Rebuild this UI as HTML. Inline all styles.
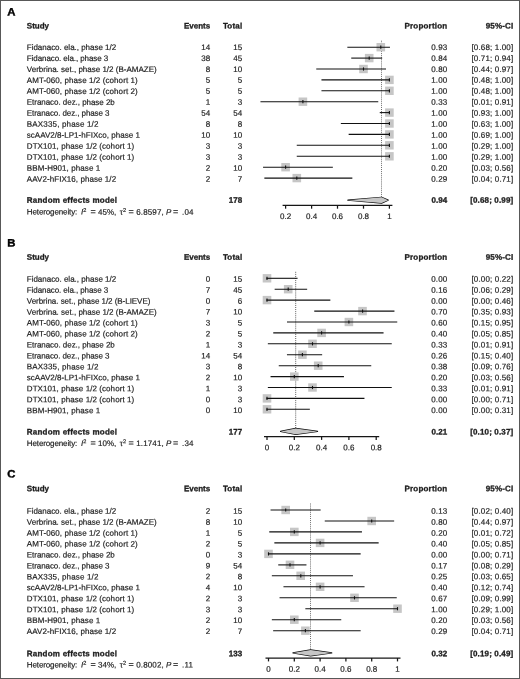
<!DOCTYPE html>
<html lang="en"><head><meta charset="utf-8"><title>Forest plots</title>
<style>
html,body{margin:0;padding:0;background:#fff;}
body{width:520px;height:679px;overflow:hidden;}
svg{display:block;text-rendering:geometricPrecision;font-family:"Liberation Sans",Arial,Helvetica,sans-serif;font-size:8px;fill:#1c1c1c;stroke:#1c1c1c;stroke-width:0.18px;paint-order:stroke;}
.b{font-weight:bold;stroke-width:0.3px;}
svg g{filter:blur(0.3px);}
.e{text-anchor:end;}
.m{text-anchor:middle;}
.L{font-size:10.8px;font-weight:bold;fill:#000;stroke:#000;stroke-width:0.4px;}
.i{font-style:italic;}
.ci{stroke:#111;stroke-width:1.1;fill:none;stroke-linecap:square;}
.sq{fill:#c6c6c6;stroke:none;}
.tk{stroke:#111;stroke-width:1.1;fill:none;}
.ref{stroke:#333;stroke-width:0.8;stroke-dasharray:1 1.07;fill:none;}
.dia{fill:#c6c6c6;stroke:#0c0c0c;stroke-width:1.3;stroke-linejoin:round;}
.w{letter-spacing:0.15px;}
.w2{letter-spacing:0.2px;}
.ax{stroke:#161616;stroke-width:1.25;fill:none;}
</style></head><body>
<svg width="520" height="679" viewBox="0 0 520 679">
<rect x="0" y="0" width="520" height="679" fill="#fff"/>

<g>
<text class="L" transform="translate(7.35 15.4) rotate(0.03) scale(1.05 1)" x="0" y="0">A</text>
<text transform="rotate(0.03 26.8 28.6)" class="b" x="26.8" y="28.6">Study</text>
<text transform="rotate(0.03 210.2 28.6)" class="b e" x="210.2" y="28.6">Events</text>
<text transform="rotate(0.03 242.4 28.6)" class="b e w2" x="242.4" y="28.6">Total</text>
<text transform="rotate(0.03 447.4 28.6)" class="b e w2" x="447.4" y="28.6">Proportion</text>
<text transform="rotate(0.03 513.35 28.6)" class="b e w" x="513.35" y="28.6">95%-CI</text>
<line class="ref" x1="381.6" y1="40.7" x2="381.6" y2="196.8"/>
<text transform="rotate(0.03 26.8 49.95)" x="26.8" y="49.95" letter-spacing="-0.021">Fidanaco. ela., phase 1/2</text>
<text transform="rotate(0.03 210.35 49.95)" class="e w" x="210.35" y="49.95">14</text>
<text transform="rotate(0.03 242.35 49.95)" class="e w" x="242.35" y="49.95">15</text>
<text transform="rotate(0.03 447.35 49.95)" class="e w" x="447.35" y="49.95">0.93</text>
<text transform="rotate(0.03 513.35 49.95)" class="e w" x="513.35" y="49.95">[0.68; 1.00]</text>
<rect class="sq" x="376.5" y="43.0" width="8.6" height="8.4"/>
<line class="ci" x1="347.9" y1="47.2" x2="389.4" y2="47.2"/>
<line class="tk" x1="380.8" y1="45.6" x2="380.8" y2="48.8"/>
<text transform="rotate(0.03 26.8 60.93)" x="26.8" y="60.93" letter-spacing="-0.082">Fidanaco. ela., phase 3</text>
<text transform="rotate(0.03 210.35 60.93)" class="e w" x="210.35" y="60.93">38</text>
<text transform="rotate(0.03 242.35 60.93)" class="e w" x="242.35" y="60.93">45</text>
<text transform="rotate(0.03 447.35 60.93)" class="e w" x="447.35" y="60.93">0.84</text>
<text transform="rotate(0.03 513.35 60.93)" class="e w" x="513.35" y="60.93">[0.71; 0.94]</text>
<rect class="sq" x="364.9" y="53.9" width="8.6" height="8.4"/>
<line class="ci" x1="351.8" y1="58.1" x2="381.6" y2="58.1"/>
<line class="tk" x1="369.2" y1="56.5" x2="369.2" y2="59.7"/>
<text transform="rotate(0.03 26.8 71.91)" x="26.8" y="71.91" letter-spacing="0.000">Verbrina. set., phase 1/2 (B-AMAZE)</text>
<text transform="rotate(0.03 210.35 71.91)" class="e w" x="210.35" y="71.91">8</text>
<text transform="rotate(0.03 242.35 71.91)" class="e w" x="242.35" y="71.91">10</text>
<text transform="rotate(0.03 447.35 71.91)" class="e w" x="447.35" y="71.91">0.80</text>
<text transform="rotate(0.03 513.35 71.91)" class="e w" x="513.35" y="71.91">[0.44; 0.97]</text>
<rect class="sq" x="359.2" y="64.8" width="8.6" height="8.4"/>
<line class="ci" x1="316.8" y1="69.0" x2="385.5" y2="69.0"/>
<line class="tk" x1="363.5" y1="67.4" x2="363.5" y2="70.6"/>
<text transform="rotate(0.03 26.8 82.89)" x="26.8" y="82.89" letter-spacing="0.086">AMT-060, phase 1/2 (cohort 1)</text>
<text transform="rotate(0.03 210.35 82.89)" class="e w" x="210.35" y="82.89">5</text>
<text transform="rotate(0.03 242.35 82.89)" class="e w" x="242.35" y="82.89">5</text>
<text transform="rotate(0.03 447.35 82.89)" class="e w" x="447.35" y="82.89">1.00</text>
<text transform="rotate(0.03 513.35 82.89)" class="e w" x="513.35" y="82.89">[0.48; 1.00]</text>
<rect class="sq" x="385.1" y="75.7" width="8.6" height="8.4"/>
<line class="ci" x1="322.0" y1="79.9" x2="389.4" y2="79.9"/>
<line class="tk" x1="389.4" y1="78.3" x2="389.4" y2="81.5"/>
<text transform="rotate(0.03 26.8 93.87)" x="26.8" y="93.87" letter-spacing="0.086">AMT-060, phase 1/2 (cohort 2)</text>
<text transform="rotate(0.03 210.35 93.87)" class="e w" x="210.35" y="93.87">5</text>
<text transform="rotate(0.03 242.35 93.87)" class="e w" x="242.35" y="93.87">5</text>
<text transform="rotate(0.03 447.35 93.87)" class="e w" x="447.35" y="93.87">1.00</text>
<text transform="rotate(0.03 513.35 93.87)" class="e w" x="513.35" y="93.87">[0.48; 1.00]</text>
<rect class="sq" x="385.1" y="86.6" width="8.6" height="8.4"/>
<line class="ci" x1="322.0" y1="90.8" x2="389.4" y2="90.8"/>
<line class="tk" x1="389.4" y1="89.2" x2="389.4" y2="92.4"/>
<text transform="rotate(0.03 26.8 104.85)" x="26.8" y="104.85" letter-spacing="-0.043">Etranaco. dez., phase 2b</text>
<text transform="rotate(0.03 210.35 104.85)" class="e w" x="210.35" y="104.85">1</text>
<text transform="rotate(0.03 242.35 104.85)" class="e w" x="242.35" y="104.85">3</text>
<text transform="rotate(0.03 447.35 104.85)" class="e w" x="447.35" y="104.85">0.33</text>
<text transform="rotate(0.03 513.35 104.85)" class="e w" x="513.35" y="104.85">[0.01; 0.91]</text>
<rect class="sq" x="298.6" y="97.5" width="8.6" height="8.4"/>
<line class="ci" x1="261.0" y1="101.7" x2="377.7" y2="101.7"/>
<line class="tk" x1="302.9" y1="100.1" x2="302.9" y2="103.3"/>
<text transform="rotate(0.03 26.8 115.83)" x="26.8" y="115.83" letter-spacing="-0.082">Etranaco. dez., phase 3</text>
<text transform="rotate(0.03 210.35 115.83)" class="e w" x="210.35" y="115.83">54</text>
<text transform="rotate(0.03 242.35 115.83)" class="e w" x="242.35" y="115.83">54</text>
<text transform="rotate(0.03 447.35 115.83)" class="e w" x="447.35" y="115.83">1.00</text>
<text transform="rotate(0.03 513.35 115.83)" class="e w" x="513.35" y="115.83">[0.93; 1.00]</text>
<rect class="sq" x="385.1" y="108.4" width="8.6" height="8.4"/>
<line class="ci" x1="380.3" y1="112.6" x2="389.4" y2="112.6"/>
<line class="tk" x1="389.4" y1="111.0" x2="389.4" y2="114.2"/>
<text transform="rotate(0.03 26.8 126.81)" x="26.8" y="126.81" letter-spacing="0.163">BAX335, phase 1/2</text>
<text transform="rotate(0.03 210.35 126.81)" class="e w" x="210.35" y="126.81">8</text>
<text transform="rotate(0.03 242.35 126.81)" class="e w" x="242.35" y="126.81">8</text>
<text transform="rotate(0.03 447.35 126.81)" class="e w" x="447.35" y="126.81">1.00</text>
<text transform="rotate(0.03 513.35 126.81)" class="e w" x="513.35" y="126.81">[0.63; 1.00]</text>
<rect class="sq" x="385.1" y="119.3" width="8.6" height="8.4"/>
<line class="ci" x1="341.4" y1="123.5" x2="389.4" y2="123.5"/>
<line class="tk" x1="389.4" y1="121.9" x2="389.4" y2="125.1"/>
<text transform="rotate(0.03 26.8 137.79)" x="26.8" y="137.79" letter-spacing="0.030">scAAV2/8-LP1-hFIXco, phase 1</text>
<text transform="rotate(0.03 210.35 137.79)" class="e w" x="210.35" y="137.79">10</text>
<text transform="rotate(0.03 242.35 137.79)" class="e w" x="242.35" y="137.79">10</text>
<text transform="rotate(0.03 447.35 137.79)" class="e w" x="447.35" y="137.79">1.00</text>
<text transform="rotate(0.03 513.35 137.79)" class="e w" x="513.35" y="137.79">[0.69; 1.00]</text>
<rect class="sq" x="385.1" y="130.2" width="8.6" height="8.4"/>
<line class="ci" x1="349.2" y1="134.4" x2="389.4" y2="134.4"/>
<line class="tk" x1="389.4" y1="132.8" x2="389.4" y2="136.0"/>
<text transform="rotate(0.03 26.8 148.77)" x="26.8" y="148.77" letter-spacing="0.074">DTX101, phase 1/2 (cohort 1)</text>
<text transform="rotate(0.03 210.35 148.77)" class="e w" x="210.35" y="148.77">3</text>
<text transform="rotate(0.03 242.35 148.77)" class="e w" x="242.35" y="148.77">3</text>
<text transform="rotate(0.03 447.35 148.77)" class="e w" x="447.35" y="148.77">1.00</text>
<text transform="rotate(0.03 513.35 148.77)" class="e w" x="513.35" y="148.77">[0.29; 1.00]</text>
<rect class="sq" x="385.1" y="141.1" width="8.6" height="8.4"/>
<line class="ci" x1="297.3" y1="145.3" x2="389.4" y2="145.3"/>
<line class="tk" x1="389.4" y1="143.7" x2="389.4" y2="146.9"/>
<text transform="rotate(0.03 26.8 159.75)" x="26.8" y="159.75" letter-spacing="0.074">DTX101, phase 1/2 (cohort 1)</text>
<text transform="rotate(0.03 210.35 159.75)" class="e w" x="210.35" y="159.75">3</text>
<text transform="rotate(0.03 242.35 159.75)" class="e w" x="242.35" y="159.75">3</text>
<text transform="rotate(0.03 447.35 159.75)" class="e w" x="447.35" y="159.75">1.00</text>
<text transform="rotate(0.03 513.35 159.75)" class="e w" x="513.35" y="159.75">[0.29; 1.00]</text>
<rect class="sq" x="385.1" y="152.1" width="8.6" height="8.4"/>
<line class="ci" x1="297.3" y1="156.2" x2="389.4" y2="156.2"/>
<line class="tk" x1="389.4" y1="154.7" x2="389.4" y2="157.8"/>
<text transform="rotate(0.03 26.8 170.73)" x="26.8" y="170.73" letter-spacing="0.087">BBM-H901, phase 1</text>
<text transform="rotate(0.03 210.35 170.73)" class="e w" x="210.35" y="170.73">2</text>
<text transform="rotate(0.03 242.35 170.73)" class="e w" x="242.35" y="170.73">10</text>
<text transform="rotate(0.03 447.35 170.73)" class="e w" x="447.35" y="170.73">0.20</text>
<text transform="rotate(0.03 513.35 170.73)" class="e w" x="513.35" y="170.73">[0.03; 0.56]</text>
<rect class="sq" x="281.3" y="163.0" width="8.6" height="8.4"/>
<line class="ci" x1="263.6" y1="167.2" x2="332.3" y2="167.2"/>
<line class="tk" x1="285.6" y1="165.6" x2="285.6" y2="168.8"/>
<text transform="rotate(0.03 26.8 181.71)" x="26.8" y="181.71" letter-spacing="0.067">AAV2-hFIX16, phase 1/2</text>
<text transform="rotate(0.03 210.35 181.71)" class="e w" x="210.35" y="181.71">2</text>
<text transform="rotate(0.03 242.35 181.71)" class="e w" x="242.35" y="181.71">7</text>
<text transform="rotate(0.03 447.35 181.71)" class="e w" x="447.35" y="181.71">0.29</text>
<text transform="rotate(0.03 513.35 181.71)" class="e w" x="513.35" y="181.71">[0.04; 0.71]</text>
<rect class="sq" x="292.5" y="173.9" width="8.6" height="8.4"/>
<line class="ci" x1="264.9" y1="178.1" x2="351.8" y2="178.1"/>
<line class="tk" x1="296.8" y1="176.5" x2="296.8" y2="179.7"/>
<text transform="rotate(0.03 26.8 202.8)" class="b" x="26.8" y="202.8" letter-spacing="0.23">Random effects model</text>
<text transform="rotate(0.03 242.2 202.8)" class="b e" x="242.2" y="202.8">178</text>
<text transform="rotate(0.03 447.2 202.8)" class="b e" x="447.2" y="202.8">0.94</text>
<text transform="rotate(0.03 513.35 202.8)" class="b e w" x="513.35" y="202.8">[0.68; 0.99]</text>
<polygon class="dia" points="347.9,200.2 381.6,197.3 388.1,200.2 381.6,203.1"/>
<text transform="rotate(0.03 26.8 214.6)" y="214.6"><tspan x="26.8" letter-spacing="-0.12">Heterogeneity:</tspan><tspan x="81" class="i">I</tspan><tspan dy="-2.7" font-size="5.6">2</tspan><tspan x="90.6" dy="2.7" font-size="9">=</tspan><tspan x="98" font-size="8">45%,</tspan><tspan x="119.8">τ</tspan><tspan dy="-2.7" font-size="5.6">2</tspan><tspan x="128.4" dy="2.7" font-size="9">=</tspan><tspan x="136.2" font-size="8" class="w">6.8597,</tspan><tspan x="166" class="i">P</tspan><tspan x="173" font-size="9">=</tspan><tspan x="182.1" font-size="8" class="w">.04</tspan></text>
<line class="ax" x1="282.6" y1="205.4" x2="392.4" y2="205.4"/>
<line class="ax" x1="285.6" y1="205.4" x2="285.6" y2="208.7"/>
<text transform="rotate(0.03 285.6 219.0)" class="m" x="285.6" y="219.0">0.2</text>
<line class="ax" x1="311.6" y1="205.4" x2="311.6" y2="208.7"/>
<text transform="rotate(0.03 311.6 219.0)" class="m" x="311.6" y="219.0">0.4</text>
<line class="ax" x1="337.5" y1="205.4" x2="337.5" y2="208.7"/>
<text transform="rotate(0.03 337.5 219.0)" class="m" x="337.5" y="219.0">0.6</text>
<line class="ax" x1="363.5" y1="205.4" x2="363.5" y2="208.7"/>
<text transform="rotate(0.03 363.5 219.0)" class="m" x="363.5" y="219.0">0.8</text>
<line class="ax" x1="389.4" y1="205.4" x2="389.4" y2="208.7"/>
<text transform="rotate(0.03 389.4 219.0)" class="m" x="389.4" y="219.0">1</text>
</g>
<g>
<text class="L" transform="translate(7.35 246.5) rotate(0.03) scale(1.05 1)" x="0" y="0">B</text>
<text transform="rotate(0.03 26.8 259.8)" class="b" x="26.8" y="259.8">Study</text>
<text transform="rotate(0.03 210.2 259.8)" class="b e" x="210.2" y="259.8">Events</text>
<text transform="rotate(0.03 242.4 259.8)" class="b e w2" x="242.4" y="259.8">Total</text>
<text transform="rotate(0.03 447.4 259.8)" class="b e w2" x="447.4" y="259.8">Proportion</text>
<text transform="rotate(0.03 513.35 259.8)" class="b e w" x="513.35" y="259.8">95%-CI</text>
<line class="ref" x1="295.7" y1="271.8" x2="295.7" y2="428.0"/>
<text transform="rotate(0.03 26.8 281.80)" x="26.8" y="281.80" letter-spacing="-0.021">Fidanaco. ela., phase 1/2</text>
<text transform="rotate(0.03 210.35 281.80)" class="e w" x="210.35" y="281.80">0</text>
<text transform="rotate(0.03 242.35 281.80)" class="e w" x="242.35" y="281.80">15</text>
<text transform="rotate(0.03 447.35 281.80)" class="e w" x="447.35" y="281.80">0.00</text>
<text transform="rotate(0.03 513.35 281.80)" class="e w" x="513.35" y="281.80">[0.00; 0.22]</text>
<rect class="sq" x="262.7" y="274.1" width="8.6" height="8.4"/>
<line class="ci" x1="267.0" y1="278.3" x2="297.0" y2="278.3"/>
<line class="tk" x1="267.0" y1="276.7" x2="267.0" y2="279.9"/>
<text transform="rotate(0.03 26.8 292.75)" x="26.8" y="292.75" letter-spacing="-0.082">Fidanaco. ela., phase 3</text>
<text transform="rotate(0.03 210.35 292.75)" class="e w" x="210.35" y="292.75">7</text>
<text transform="rotate(0.03 242.35 292.75)" class="e w" x="242.35" y="292.75">45</text>
<text transform="rotate(0.03 447.35 292.75)" class="e w" x="447.35" y="292.75">0.16</text>
<text transform="rotate(0.03 513.35 292.75)" class="e w" x="513.35" y="292.75">[0.06; 0.29]</text>
<rect class="sq" x="283.9" y="285.0" width="8.6" height="8.4"/>
<line class="ci" x1="275.2" y1="289.2" x2="306.6" y2="289.2"/>
<line class="tk" x1="288.2" y1="287.6" x2="288.2" y2="290.8"/>
<text transform="rotate(0.03 26.8 303.69)" x="26.8" y="303.69" letter-spacing="-0.041">Verbrina. set., phase 1/2 (B-LIEVE)</text>
<text transform="rotate(0.03 210.35 303.69)" class="e w" x="210.35" y="303.69">0</text>
<text transform="rotate(0.03 242.35 303.69)" class="e w" x="242.35" y="303.69">6</text>
<text transform="rotate(0.03 447.35 303.69)" class="e w" x="447.35" y="303.69">0.00</text>
<text transform="rotate(0.03 513.35 303.69)" class="e w" x="513.35" y="303.69">[0.00; 0.46]</text>
<rect class="sq" x="262.7" y="295.9" width="8.6" height="8.4"/>
<line class="ci" x1="267.0" y1="300.1" x2="329.8" y2="300.1"/>
<line class="tk" x1="267.0" y1="298.5" x2="267.0" y2="301.7"/>
<text transform="rotate(0.03 26.8 314.63)" x="26.8" y="314.63" letter-spacing="0.000">Verbrina. set., phase 1/2 (B-AMAZE)</text>
<text transform="rotate(0.03 210.35 314.63)" class="e w" x="210.35" y="314.63">7</text>
<text transform="rotate(0.03 242.35 314.63)" class="e w" x="242.35" y="314.63">10</text>
<text transform="rotate(0.03 447.35 314.63)" class="e w" x="447.35" y="314.63">0.70</text>
<text transform="rotate(0.03 513.35 314.63)" class="e w" x="513.35" y="314.63">[0.35; 0.93]</text>
<rect class="sq" x="358.2" y="306.9" width="8.6" height="8.4"/>
<line class="ci" x1="314.8" y1="311.1" x2="393.9" y2="311.1"/>
<line class="tk" x1="362.6" y1="309.5" x2="362.6" y2="312.7"/>
<text transform="rotate(0.03 26.8 325.58)" x="26.8" y="325.58" letter-spacing="0.086">AMT-060, phase 1/2 (cohort 1)</text>
<text transform="rotate(0.03 210.35 325.58)" class="e w" x="210.35" y="325.58">3</text>
<text transform="rotate(0.03 242.35 325.58)" class="e w" x="242.35" y="325.58">5</text>
<text transform="rotate(0.03 447.35 325.58)" class="e w" x="447.35" y="325.58">0.60</text>
<text transform="rotate(0.03 513.35 325.58)" class="e w" x="513.35" y="325.58">[0.15; 0.95]</text>
<rect class="sq" x="344.6" y="317.8" width="8.6" height="8.4"/>
<line class="ci" x1="287.5" y1="322.0" x2="396.7" y2="322.0"/>
<line class="tk" x1="348.9" y1="320.4" x2="348.9" y2="323.6"/>
<text transform="rotate(0.03 26.8 336.53)" x="26.8" y="336.53" letter-spacing="0.086">AMT-060, phase 1/2 (cohort 2)</text>
<text transform="rotate(0.03 210.35 336.53)" class="e w" x="210.35" y="336.53">2</text>
<text transform="rotate(0.03 242.35 336.53)" class="e w" x="242.35" y="336.53">5</text>
<text transform="rotate(0.03 447.35 336.53)" class="e w" x="447.35" y="336.53">0.40</text>
<text transform="rotate(0.03 513.35 336.53)" class="e w" x="513.35" y="336.53">[0.05; 0.85]</text>
<rect class="sq" x="317.3" y="328.7" width="8.6" height="8.4"/>
<line class="ci" x1="273.8" y1="332.9" x2="383.0" y2="332.9"/>
<line class="tk" x1="321.6" y1="331.3" x2="321.6" y2="334.5"/>
<text transform="rotate(0.03 26.8 347.47)" x="26.8" y="347.47" letter-spacing="-0.043">Etranaco. dez., phase 2b</text>
<text transform="rotate(0.03 210.35 347.47)" class="e w" x="210.35" y="347.47">1</text>
<text transform="rotate(0.03 242.35 347.47)" class="e w" x="242.35" y="347.47">3</text>
<text transform="rotate(0.03 447.35 347.47)" class="e w" x="447.35" y="347.47">0.33</text>
<text transform="rotate(0.03 513.35 347.47)" class="e w" x="513.35" y="347.47">[0.01; 0.91]</text>
<rect class="sq" x="308.2" y="339.6" width="8.6" height="8.4"/>
<line class="ci" x1="268.4" y1="343.8" x2="391.2" y2="343.8"/>
<line class="tk" x1="312.5" y1="342.2" x2="312.5" y2="345.4"/>
<text transform="rotate(0.03 26.8 358.42)" x="26.8" y="358.42" letter-spacing="-0.082">Etranaco. dez., phase 3</text>
<text transform="rotate(0.03 210.35 358.42)" class="e w" x="210.35" y="358.42">14</text>
<text transform="rotate(0.03 242.35 358.42)" class="e w" x="242.35" y="358.42">54</text>
<text transform="rotate(0.03 447.35 358.42)" class="e w" x="447.35" y="358.42">0.26</text>
<text transform="rotate(0.03 513.35 358.42)" class="e w" x="513.35" y="358.42">[0.15; 0.40]</text>
<rect class="sq" x="298.1" y="350.5" width="8.6" height="8.4"/>
<line class="ci" x1="287.5" y1="354.7" x2="321.6" y2="354.7"/>
<line class="tk" x1="302.4" y1="353.1" x2="302.4" y2="356.3"/>
<text transform="rotate(0.03 26.8 369.36)" x="26.8" y="369.36" letter-spacing="0.163">BAX335, phase 1/2</text>
<text transform="rotate(0.03 210.35 369.36)" class="e w" x="210.35" y="369.36">3</text>
<text transform="rotate(0.03 242.35 369.36)" class="e w" x="242.35" y="369.36">8</text>
<text transform="rotate(0.03 447.35 369.36)" class="e w" x="447.35" y="369.36">0.38</text>
<text transform="rotate(0.03 513.35 369.36)" class="e w" x="513.35" y="369.36">[0.09; 0.76]</text>
<rect class="sq" x="313.9" y="361.5" width="8.6" height="8.4"/>
<line class="ci" x1="279.3" y1="365.7" x2="370.7" y2="365.7"/>
<line class="tk" x1="318.2" y1="364.1" x2="318.2" y2="367.3"/>
<text transform="rotate(0.03 26.8 380.31)" x="26.8" y="380.31" letter-spacing="0.030">scAAV2/8-LP1-hFIXco, phase 1</text>
<text transform="rotate(0.03 210.35 380.31)" class="e w" x="210.35" y="380.31">2</text>
<text transform="rotate(0.03 242.35 380.31)" class="e w" x="242.35" y="380.31">10</text>
<text transform="rotate(0.03 447.35 380.31)" class="e w" x="447.35" y="380.31">0.20</text>
<text transform="rotate(0.03 513.35 380.31)" class="e w" x="513.35" y="380.31">[0.03; 0.56]</text>
<rect class="sq" x="290.0" y="372.4" width="8.6" height="8.4"/>
<line class="ci" x1="271.1" y1="376.6" x2="343.4" y2="376.6"/>
<line class="tk" x1="294.3" y1="375.0" x2="294.3" y2="378.2"/>
<text transform="rotate(0.03 26.8 391.25)" x="26.8" y="391.25" letter-spacing="0.074">DTX101, phase 1/2 (cohort 1)</text>
<text transform="rotate(0.03 210.35 391.25)" class="e w" x="210.35" y="391.25">1</text>
<text transform="rotate(0.03 242.35 391.25)" class="e w" x="242.35" y="391.25">3</text>
<text transform="rotate(0.03 447.35 391.25)" class="e w" x="447.35" y="391.25">0.33</text>
<text transform="rotate(0.03 513.35 391.25)" class="e w" x="513.35" y="391.25">[0.01; 0.91]</text>
<rect class="sq" x="308.2" y="383.3" width="8.6" height="8.4"/>
<line class="ci" x1="268.4" y1="387.5" x2="391.2" y2="387.5"/>
<line class="tk" x1="312.5" y1="385.9" x2="312.5" y2="389.1"/>
<text transform="rotate(0.03 26.8 402.20)" x="26.8" y="402.20" letter-spacing="0.074">DTX101, phase 1/2 (cohort 1)</text>
<text transform="rotate(0.03 210.35 402.20)" class="e w" x="210.35" y="402.20">0</text>
<text transform="rotate(0.03 242.35 402.20)" class="e w" x="242.35" y="402.20">3</text>
<text transform="rotate(0.03 447.35 402.20)" class="e w" x="447.35" y="402.20">0.00</text>
<text transform="rotate(0.03 513.35 402.20)" class="e w" x="513.35" y="402.20">[0.00; 0.71]</text>
<rect class="sq" x="262.7" y="394.2" width="8.6" height="8.4"/>
<line class="ci" x1="267.0" y1="398.4" x2="363.9" y2="398.4"/>
<line class="tk" x1="267.0" y1="396.8" x2="267.0" y2="400.0"/>
<text transform="rotate(0.03 26.8 413.14)" x="26.8" y="413.14" letter-spacing="0.087">BBM-H901, phase 1</text>
<text transform="rotate(0.03 210.35 413.14)" class="e w" x="210.35" y="413.14">0</text>
<text transform="rotate(0.03 242.35 413.14)" class="e w" x="242.35" y="413.14">10</text>
<text transform="rotate(0.03 447.35 413.14)" class="e w" x="447.35" y="413.14">0.00</text>
<text transform="rotate(0.03 513.35 413.14)" class="e w" x="513.35" y="413.14">[0.00; 0.31]</text>
<rect class="sq" x="262.7" y="405.1" width="8.6" height="8.4"/>
<line class="ci" x1="267.0" y1="409.3" x2="309.3" y2="409.3"/>
<line class="tk" x1="267.0" y1="407.7" x2="267.0" y2="410.9"/>
<text transform="rotate(0.03 26.8 434.5)" class="b" x="26.8" y="434.5" letter-spacing="0.23">Random effects model</text>
<text transform="rotate(0.03 242.2 434.5)" class="b e" x="242.2" y="434.5">177</text>
<text transform="rotate(0.03 447.2 434.5)" class="b e" x="447.2" y="434.5">0.21</text>
<text transform="rotate(0.03 513.35 434.5)" class="b e w" x="513.35" y="434.5">[0.10; 0.37]</text>
<polygon class="dia" points="280.6,431.4 295.7,428.5 317.5,431.4 295.7,434.3"/>
<text transform="rotate(0.03 26.8 445.9)" y="445.9"><tspan x="26.8" letter-spacing="-0.12">Heterogeneity:</tspan><tspan x="81" class="i">I</tspan><tspan dy="-2.7" font-size="5.6">2</tspan><tspan x="90.6" dy="2.7" font-size="9">=</tspan><tspan x="98" font-size="8">10%,</tspan><tspan x="119.8">τ</tspan><tspan dy="-2.7" font-size="5.6">2</tspan><tspan x="128.4" dy="2.7" font-size="9">=</tspan><tspan x="136.2" font-size="8" class="w">1.1741,</tspan><tspan x="166" class="i">P</tspan><tspan x="173" font-size="9">=</tspan><tspan x="182.1" font-size="8" class="w">.34</tspan></text>
<line class="ax" x1="264.0" y1="436.6" x2="379.2" y2="436.6"/>
<line class="ax" x1="267.0" y1="436.6" x2="267.0" y2="439.9"/>
<text transform="rotate(0.03 267.0 450.2)" class="m" x="267.0" y="450.2">0</text>
<line class="ax" x1="294.3" y1="436.6" x2="294.3" y2="439.9"/>
<text transform="rotate(0.03 294.3 450.2)" class="m" x="294.3" y="450.2">0.2</text>
<line class="ax" x1="321.6" y1="436.6" x2="321.6" y2="439.9"/>
<text transform="rotate(0.03 321.6 450.2)" class="m" x="321.6" y="450.2">0.4</text>
<line class="ax" x1="348.9" y1="436.6" x2="348.9" y2="439.9"/>
<text transform="rotate(0.03 348.9 450.2)" class="m" x="348.9" y="450.2">0.6</text>
<line class="ax" x1="376.2" y1="436.6" x2="376.2" y2="439.9"/>
<text transform="rotate(0.03 376.2 450.2)" class="m" x="376.2" y="450.2">0.8</text>
</g>
<g>
<text class="L" transform="translate(7.35 477.6) rotate(0.03) scale(1.05 1)" x="0" y="0">C</text>
<text transform="rotate(0.03 26.8 491.2)" class="b" x="26.8" y="491.2">Study</text>
<text transform="rotate(0.03 210.2 491.2)" class="b e" x="210.2" y="491.2">Events</text>
<text transform="rotate(0.03 242.4 491.2)" class="b e w2" x="242.4" y="491.2">Total</text>
<text transform="rotate(0.03 447.4 491.2)" class="b e w2" x="447.4" y="491.2">Proportion</text>
<text transform="rotate(0.03 513.35 491.2)" class="b e w" x="513.35" y="491.2">95%-CI</text>
<line class="ref" x1="310.6" y1="503.5" x2="310.6" y2="649.5"/>
<text transform="rotate(0.03 26.8 513.80)" x="26.8" y="513.80" letter-spacing="-0.021">Fidanaco. ela., phase 1/2</text>
<text transform="rotate(0.03 210.35 513.80)" class="e w" x="210.35" y="513.80">2</text>
<text transform="rotate(0.03 242.35 513.80)" class="e w" x="242.35" y="513.80">15</text>
<text transform="rotate(0.03 447.35 513.80)" class="e w" x="447.35" y="513.80">0.13</text>
<text transform="rotate(0.03 513.35 513.80)" class="e w" x="513.35" y="513.80">[0.02; 0.40]</text>
<rect class="sq" x="281.4" y="505.8" width="8.6" height="8.4"/>
<line class="ci" x1="271.1" y1="510.0" x2="320.1" y2="510.0"/>
<line class="tk" x1="285.7" y1="508.4" x2="285.7" y2="511.6"/>
<text transform="rotate(0.03 26.8 524.73)" x="26.8" y="524.73" letter-spacing="0.000">Verbrina. set., phase 1/2 (B-AMAZE)</text>
<text transform="rotate(0.03 210.35 524.73)" class="e w" x="210.35" y="524.73">8</text>
<text transform="rotate(0.03 242.35 524.73)" class="e w" x="242.35" y="524.73">10</text>
<text transform="rotate(0.03 447.35 524.73)" class="e w" x="447.35" y="524.73">0.80</text>
<text transform="rotate(0.03 513.35 524.73)" class="e w" x="513.35" y="524.73">[0.44; 0.97]</text>
<rect class="sq" x="367.4" y="516.8" width="8.6" height="8.4"/>
<line class="ci" x1="325.3" y1="521.0" x2="393.6" y2="521.0"/>
<line class="tk" x1="371.7" y1="519.4" x2="371.7" y2="522.6"/>
<text transform="rotate(0.03 26.8 535.66)" x="26.8" y="535.66" letter-spacing="0.086">AMT-060, phase 1/2 (cohort 1)</text>
<text transform="rotate(0.03 210.35 535.66)" class="e w" x="210.35" y="535.66">1</text>
<text transform="rotate(0.03 242.35 535.66)" class="e w" x="242.35" y="535.66">5</text>
<text transform="rotate(0.03 447.35 535.66)" class="e w" x="447.35" y="535.66">0.20</text>
<text transform="rotate(0.03 513.35 535.66)" class="e w" x="513.35" y="535.66">[0.01; 0.72]</text>
<rect class="sq" x="290.0" y="527.7" width="8.6" height="8.4"/>
<line class="ci" x1="269.8" y1="531.9" x2="361.4" y2="531.9"/>
<line class="tk" x1="294.3" y1="530.3" x2="294.3" y2="533.5"/>
<text transform="rotate(0.03 26.8 546.59)" x="26.8" y="546.59" letter-spacing="0.086">AMT-060, phase 1/2 (cohort 2)</text>
<text transform="rotate(0.03 210.35 546.59)" class="e w" x="210.35" y="546.59">2</text>
<text transform="rotate(0.03 242.35 546.59)" class="e w" x="242.35" y="546.59">5</text>
<text transform="rotate(0.03 447.35 546.59)" class="e w" x="447.35" y="546.59">0.40</text>
<text transform="rotate(0.03 513.35 546.59)" class="e w" x="513.35" y="546.59">[0.05; 0.85]</text>
<rect class="sq" x="315.8" y="538.7" width="8.6" height="8.4"/>
<line class="ci" x1="274.9" y1="542.9" x2="378.1" y2="542.9"/>
<line class="tk" x1="320.1" y1="541.3" x2="320.1" y2="544.5"/>
<text transform="rotate(0.03 26.8 557.52)" x="26.8" y="557.52" letter-spacing="-0.043">Etranaco. dez., phase 2b</text>
<text transform="rotate(0.03 210.35 557.52)" class="e w" x="210.35" y="557.52">0</text>
<text transform="rotate(0.03 242.35 557.52)" class="e w" x="242.35" y="557.52">3</text>
<text transform="rotate(0.03 447.35 557.52)" class="e w" x="447.35" y="557.52">0.00</text>
<text transform="rotate(0.03 513.35 557.52)" class="e w" x="513.35" y="557.52">[0.00; 0.71]</text>
<rect class="sq" x="264.2" y="549.7" width="8.6" height="8.4"/>
<line class="ci" x1="268.5" y1="553.9" x2="360.1" y2="553.9"/>
<line class="tk" x1="268.5" y1="552.3" x2="268.5" y2="555.5"/>
<text transform="rotate(0.03 26.8 568.45)" x="26.8" y="568.45" letter-spacing="-0.082">Etranaco. dez., phase 3</text>
<text transform="rotate(0.03 210.35 568.45)" class="e w" x="210.35" y="568.45">9</text>
<text transform="rotate(0.03 242.35 568.45)" class="e w" x="242.35" y="568.45">54</text>
<text transform="rotate(0.03 447.35 568.45)" class="e w" x="447.35" y="568.45">0.17</text>
<text transform="rotate(0.03 513.35 568.45)" class="e w" x="513.35" y="568.45">[0.08; 0.29]</text>
<rect class="sq" x="285.7" y="560.6" width="8.6" height="8.4"/>
<line class="ci" x1="278.8" y1="564.9" x2="305.9" y2="564.9"/>
<line class="tk" x1="290.0" y1="563.2" x2="290.0" y2="566.5"/>
<text transform="rotate(0.03 26.8 579.38)" x="26.8" y="579.38" letter-spacing="0.163">BAX335, phase 1/2</text>
<text transform="rotate(0.03 210.35 579.38)" class="e w" x="210.35" y="579.38">2</text>
<text transform="rotate(0.03 242.35 579.38)" class="e w" x="242.35" y="579.38">8</text>
<text transform="rotate(0.03 447.35 579.38)" class="e w" x="447.35" y="579.38">0.25</text>
<text transform="rotate(0.03 513.35 579.38)" class="e w" x="513.35" y="579.38">[0.03; 0.65]</text>
<rect class="sq" x="296.4" y="571.6" width="8.6" height="8.4"/>
<line class="ci" x1="272.4" y1="575.8" x2="352.4" y2="575.8"/>
<line class="tk" x1="300.8" y1="574.2" x2="300.8" y2="577.4"/>
<text transform="rotate(0.03 26.8 590.31)" x="26.8" y="590.31" letter-spacing="0.030">scAAV2/8-LP1-hFIXco, phase 1</text>
<text transform="rotate(0.03 210.35 590.31)" class="e w" x="210.35" y="590.31">4</text>
<text transform="rotate(0.03 242.35 590.31)" class="e w" x="242.35" y="590.31">10</text>
<text transform="rotate(0.03 447.35 590.31)" class="e w" x="447.35" y="590.31">0.40</text>
<text transform="rotate(0.03 513.35 590.31)" class="e w" x="513.35" y="590.31">[0.12; 0.74]</text>
<rect class="sq" x="315.8" y="582.6" width="8.6" height="8.4"/>
<line class="ci" x1="284.0" y1="586.8" x2="364.0" y2="586.8"/>
<line class="tk" x1="320.1" y1="585.2" x2="320.1" y2="588.4"/>
<text transform="rotate(0.03 26.8 601.24)" x="26.8" y="601.24" letter-spacing="0.074">DTX101, phase 1/2 (cohort 1)</text>
<text transform="rotate(0.03 210.35 601.24)" class="e w" x="210.35" y="601.24">2</text>
<text transform="rotate(0.03 242.35 601.24)" class="e w" x="242.35" y="601.24">3</text>
<text transform="rotate(0.03 447.35 601.24)" class="e w" x="447.35" y="601.24">0.67</text>
<text transform="rotate(0.03 513.35 601.24)" class="e w" x="513.35" y="601.24">[0.09; 0.99]</text>
<rect class="sq" x="350.2" y="593.6" width="8.6" height="8.4"/>
<line class="ci" x1="280.1" y1="597.8" x2="396.2" y2="597.8"/>
<line class="tk" x1="354.5" y1="596.2" x2="354.5" y2="599.4"/>
<text transform="rotate(0.03 26.8 612.17)" x="26.8" y="612.17" letter-spacing="0.074">DTX101, phase 1/2 (cohort 1)</text>
<text transform="rotate(0.03 210.35 612.17)" class="e w" x="210.35" y="612.17">3</text>
<text transform="rotate(0.03 242.35 612.17)" class="e w" x="242.35" y="612.17">3</text>
<text transform="rotate(0.03 447.35 612.17)" class="e w" x="447.35" y="612.17">1.00</text>
<text transform="rotate(0.03 513.35 612.17)" class="e w" x="513.35" y="612.17">[0.29; 1.00]</text>
<rect class="sq" x="393.2" y="604.5" width="8.6" height="8.4"/>
<line class="ci" x1="305.9" y1="608.7" x2="397.5" y2="608.7"/>
<line class="tk" x1="397.5" y1="607.1" x2="397.5" y2="610.3"/>
<text transform="rotate(0.03 26.8 623.10)" x="26.8" y="623.10" letter-spacing="0.087">BBM-H901, phase 1</text>
<text transform="rotate(0.03 210.35 623.10)" class="e w" x="210.35" y="623.10">2</text>
<text transform="rotate(0.03 242.35 623.10)" class="e w" x="242.35" y="623.10">10</text>
<text transform="rotate(0.03 447.35 623.10)" class="e w" x="447.35" y="623.10">0.20</text>
<text transform="rotate(0.03 513.35 623.10)" class="e w" x="513.35" y="623.10">[0.03; 0.56]</text>
<rect class="sq" x="290.0" y="615.5" width="8.6" height="8.4"/>
<line class="ci" x1="272.4" y1="619.7" x2="340.7" y2="619.7"/>
<line class="tk" x1="294.3" y1="618.1" x2="294.3" y2="621.3"/>
<text transform="rotate(0.03 26.8 634.03)" x="26.8" y="634.03" letter-spacing="0.067">AAV2-hFIX16, phase 1/2</text>
<text transform="rotate(0.03 210.35 634.03)" class="e w" x="210.35" y="634.03">2</text>
<text transform="rotate(0.03 242.35 634.03)" class="e w" x="242.35" y="634.03">7</text>
<text transform="rotate(0.03 447.35 634.03)" class="e w" x="447.35" y="634.03">0.29</text>
<text transform="rotate(0.03 513.35 634.03)" class="e w" x="513.35" y="634.03">[0.04; 0.71]</text>
<rect class="sq" x="301.1" y="626.5" width="8.6" height="8.4"/>
<line class="ci" x1="273.7" y1="630.7" x2="360.1" y2="630.7"/>
<line class="tk" x1="305.4" y1="629.1" x2="305.4" y2="632.3"/>
<text transform="rotate(0.03 26.8 656.3)" class="b" x="26.8" y="656.3" letter-spacing="0.23">Random effects model</text>
<text transform="rotate(0.03 242.2 656.3)" class="b e" x="242.2" y="656.3">133</text>
<text transform="rotate(0.03 447.2 656.3)" class="b e" x="447.2" y="656.3">0.32</text>
<text transform="rotate(0.03 513.35 656.3)" class="b e w" x="513.35" y="656.3">[0.19; 0.49]</text>
<polygon class="dia" points="293.0,652.9 310.6,650.0 331.7,652.9 310.6,655.8"/>
<text transform="rotate(0.03 26.8 667.5)" y="667.5"><tspan x="26.8" letter-spacing="-0.12">Heterogeneity:</tspan><tspan x="81" class="i">I</tspan><tspan dy="-2.7" font-size="5.6">2</tspan><tspan x="90.6" dy="2.7" font-size="9">=</tspan><tspan x="98" font-size="8">34%,</tspan><tspan x="119.8">τ</tspan><tspan dy="-2.7" font-size="5.6">2</tspan><tspan x="128.4" dy="2.7" font-size="9">=</tspan><tspan x="136.2" font-size="8" class="w">0.8002,</tspan><tspan x="166" class="i">P</tspan><tspan x="173" font-size="9">=</tspan><tspan x="182.1" font-size="8" class="w">.11</tspan></text>
<line class="ax" x1="265.5" y1="658.1" x2="400.5" y2="658.1"/>
<line class="ax" x1="268.5" y1="658.1" x2="268.5" y2="661.4"/>
<text transform="rotate(0.03 268.5 671.7)" class="m" x="268.5" y="671.7">0</text>
<line class="ax" x1="294.3" y1="658.1" x2="294.3" y2="661.4"/>
<text transform="rotate(0.03 294.3 671.7)" class="m" x="294.3" y="671.7">0.2</text>
<line class="ax" x1="320.1" y1="658.1" x2="320.1" y2="661.4"/>
<text transform="rotate(0.03 320.1 671.7)" class="m" x="320.1" y="671.7">0.4</text>
<line class="ax" x1="345.9" y1="658.1" x2="345.9" y2="661.4"/>
<text transform="rotate(0.03 345.9 671.7)" class="m" x="345.9" y="671.7">0.6</text>
<line class="ax" x1="371.7" y1="658.1" x2="371.7" y2="661.4"/>
<text transform="rotate(0.03 371.7 671.7)" class="m" x="371.7" y="671.7">0.8</text>
<line class="ax" x1="397.5" y1="658.1" x2="397.5" y2="661.4"/>
<text transform="rotate(0.03 397.5 671.7)" class="m" x="397.5" y="671.7">1</text>
</g>
<rect x="0.5" y="0.5" width="519" height="678" fill="none" stroke="#585858" stroke-width="1"/>
</svg></body></html>
